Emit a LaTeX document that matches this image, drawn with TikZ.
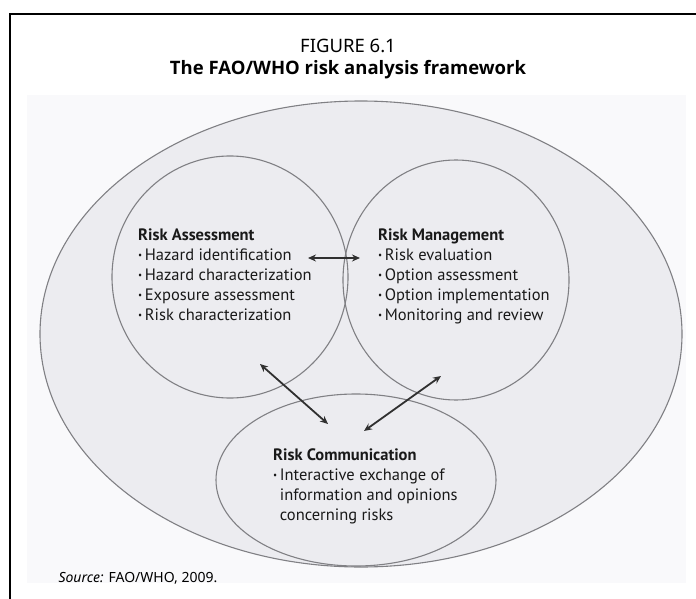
\documentclass[tikz,border=0pt]{standalone}
\usepackage{fontspec}
\setmainfont{PT Sans}
\newfontfamily\titlefont{Noto Sans}
\newfontfamily\headfont{Open Sans}
\usepackage{tikz}
\usetikzlibrary{arrows,arrows.meta,shapes,positioning}
\usepackage{xcolor}
\definecolor{rapage}{RGB}{249,249,251}
\definecolor{raouter}{RGB}{236,236,240}
\definecolor{raline}{RGB}{128,128,132}
\definecolor{raarrow}{RGB}{48,48,48}
\definecolor{ratext}{RGB}{25,25,25}
\tikzstyle{arrow} = [line width=1.8pt,<->,>={Stealth[length=8pt,width=7pt]},color=raarrow]
\tikzstyle{sphere} = [ellipse, draw=raline, line width=1.1pt, inner sep=0pt]
\tikzstyle{bodytext} = [anchor=north west, inner sep=0pt, align=left, text=ratext, font=\fontsize{16.5}{20}\selectfont]
\newcommand{\bul}{{\titlefont\fontsize{11}{11}\selectfont\raisebox{0.2ex}{•}}\hspace{2.5pt}}

\begin{document}
\begin{tikzpicture}[x=1pt,y=-1pt]
\useasboundingbox (0,0) rectangle (696,599);
% page frame and shaded panel
\draw[line width=1.5pt] (696,14) -- (10,14) -- (10,599);
\fill[rapage] (27,95) rectangle (686,583);

% heading
\node (fig_no) at (348,46) {\titlefont\fontsize{18.5}{22}\selectfont FIGURE 6.1};
\node (fig_title) at (348,70) {\headfont\bfseries\fontsize{18.5}{22}\selectfont The FAO/WHO risk analysis framework};

% outer frame and the three components
\node (analysis) [sphere, fill=raouter, minimum width=642pt, minimum height=466pt] at (361,334) {};
\node (assessment) [sphere, minimum width=236pt, minimum height=242pt] at (230,277) {};
\node (management) [sphere, minimum width=226pt, minimum height=240pt] at (456,280) {};
\node (communication) [sphere, minimum width=280pt, minimum height=172pt] at (356,480) {};

% component texts
\node (assess_text) [bodytext] at (138,229) {\textbf{Risk Assessment}\\
  \bul Hazard identification\\
  \bul Hazard characterization\\
  \bul Exposure assessment\\
  \bul Risk characterization};
\node (manage_text) [bodytext] at (378,229) {\textbf{Risk Management}\\
  \bul Risk evaluation\\
  \bul Option assessment\\
  \bul Option implementation\\
  \bul Monitoring and review};
\node (comm_text) [bodytext] at (273,449) {\textbf{Risk Communication}\\
  \bul Interactive exchange of\\
  \phantom{\bul}information and opinions\\
  \phantom{\bul}concerning risks};

% two-way links
\coordinate (link_am1) at (308,258);
\coordinate (link_am2) at (360,258);
\coordinate (link_ac1) at (260,364);
\coordinate (link_ac2) at (328,424);
\coordinate (link_mc1) at (441,376);
\coordinate (link_mc2) at (364,431);
\draw[arrow] (link_am1) -- (link_am2);
\draw[arrow] (link_ac1) -- (link_ac2);
\draw[arrow] (link_mc1) -- (link_mc2);

\node (source) [anchor=west] at (55,578) {\titlefont\fontsize{14}{16}\selectfont\textit{Source:} FAO/WHO, 2009.};
\end{tikzpicture}
\end{document}
